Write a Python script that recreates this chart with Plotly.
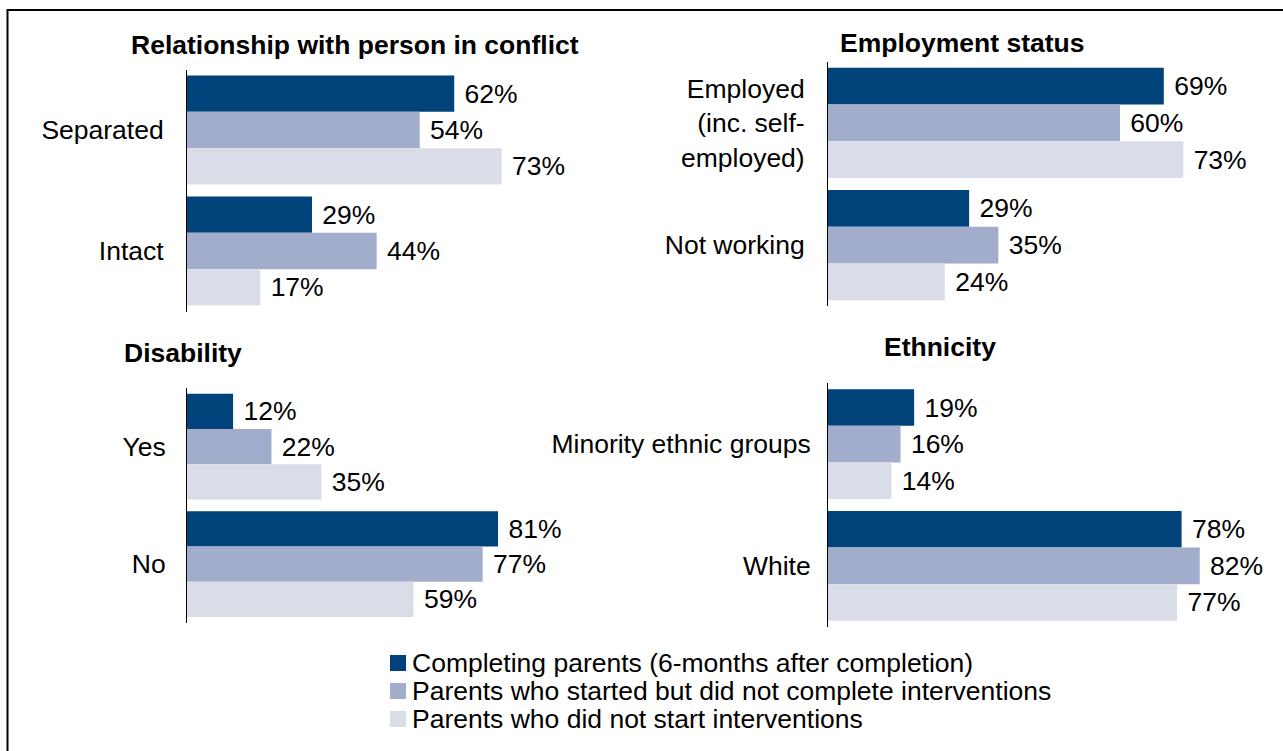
import plotly.graph_objects as go

# Series (legend order, top bar first within each group)
series_names = [
    "Completing parents (6-months after completion)",
    "Parents who started but did not complete interventions",
    "Parents who did not start interventions",
]
series_colors = ["#00427A", "#A2ACCB", "#D9DDE8"]

# Relationship with person in conflict
rel_categories = ["Separated", "Intact"]
rel_completing = [62, 29]
rel_started = [54, 44]
rel_not_started = [73, 17]

# Employment status
emp_categories = ["Employed<br>(inc. self-<br>employed)", "Not working"]
emp_completing = [69, 29]
emp_started = [60, 35]
emp_not_started = [73, 24]

# Disability
dis_categories = ["Yes", "No"]
dis_completing = [12, 81]
dis_started = [22, 77]
dis_not_started = [35, 59]

# Ethnicity
eth_categories = ["Minority ethnic groups", "White"]
eth_completing = [19, 78]
eth_started = [16, 82]
eth_not_started = [14, 77]

W, H = 1283, 751
FONT = "Liberation Sans, Arial, sans-serif"
FS = 26.5


def px_x(a, b):
    return [a / W, b / W]


def px_y(top, bottom):
    return [1 - bottom / H, 1 - top / H]


panels = [
    dict(cats=rel_categories, vals=[rel_completing, rel_started, rel_not_started],
         xdom=px_x(187, 618), xr=[0, 100], ydom=px_y(69.5, 311.5), standoff=17),
    dict(cats=emp_categories, vals=[emp_completing, emp_started, emp_not_started],
         xdom=px_x(828, 1266), xr=[0, 90], ydom=px_y(61.75, 306.25), standoff=17),
    dict(cats=dis_categories, vals=[dis_completing, dis_started, dis_not_started],
         xdom=px_x(187, 571), xr=[0, 100], ydom=px_y(387.75, 622.75), standoff=15),
    dict(cats=eth_categories, vals=[eth_completing, eth_started, eth_not_started],
         xdom=px_x(828, 1236), xr=[0, 90], ydom=px_y(383.25, 626.75), standoff=11),
]

fig = go.Figure()
layout = {}
for i, p in enumerate(panels, start=1):
    xa = "x" if i == 1 else f"x{i}"
    ya = "y" if i == 1 else f"y{i}"
    for name, color, vals in zip(series_names, series_colors, p["vals"]):
        fig.add_trace(go.Bar(
            x=vals, y=p["cats"], orientation="h", name=name,
            marker=dict(color=color, line=dict(width=0)),
            texttemplate="\u00a0%{x}%", textposition="outside",
            textfont=dict(family=FONT, size=FS, color="#000000"),
            constraintext="none", cliponaxis=False,
            showlegend=False, xaxis=xa, yaxis=ya,
            offsetgroup=name,
        ))
    key = "" if i == 1 else str(i)
    layout[f"xaxis{key}"] = dict(domain=p["xdom"], range=p["xr"], visible=False,
                                 anchor=ya, fixedrange=True)
    layout[f"yaxis{key}"] = dict(domain=p["ydom"], anchor=xa, type="category",
                                 autorange="reversed", showline=True,
                                 linecolor="#000000", linewidth=1,
                                 showgrid=False, zeroline=False, ticks="",
                                 ticklabelstandoff=p["standoff"],
                                 tickfont=dict(family=FONT, size=FS, color="#000000"))

fig.update_layout(**layout)

titles = [
    ("Relationship with person in conflict", 355, 45, "center"),
    ("Employment status", 962, 43, "center"),
    ("Disability", 122, 353, "left"),
    ("Ethnicity", 940, 347, "center"),
]
annotations = []
for text, x, y, anchor in titles:
    annotations.append(dict(text=f"<b>{text}</b>", x=x / W, y=1 - y / H,
                            xref="paper", yref="paper", xanchor=anchor,
                            yanchor="middle", showarrow=False,
                            font=dict(family=FONT, size=FS, color="#000000")))

# Legend drawn as swatches plus labels
shapes = []
legend_rows = [663, 691, 719]
for name, color, yc in zip(series_names, series_colors, legend_rows):
    shapes.append(dict(type="rect", xref="paper", yref="paper",
                       x0=390 / W, x1=406 / W, y0=1 - (yc + 8) / H, y1=1 - (yc - 8) / H,
                       fillcolor=color, line=dict(width=0)))
    annotations.append(dict(text=name, x=410 / W, y=1 - yc / H, xref="paper",
                            yref="paper", xanchor="left", yanchor="middle",
                            showarrow=False,
                            font=dict(family=FONT, size=FS, color="#000000")))

# Outer frame
shapes.append(dict(type="rect", xref="paper", yref="paper",
                   x0=7.5 / W, x1=1300 / W, y0=-20 / H, y1=1 - 10 / H,
                   line=dict(color="#000000", width=2), fillcolor="rgba(0,0,0,0)"))

fig.update_layout(
    width=W, height=H,
    margin=dict(l=0, r=0, t=0, b=0),
    paper_bgcolor="#FFFFFF", plot_bgcolor="#FFFFFF",
    barmode="group", bargap=0.1, bargroupgap=0,
    showlegend=False,
    annotations=annotations, shapes=shapes,
    font=dict(family=FONT, size=FS, color="#000000"),
)

fig.write_html("out.html", config={"displayModeBar": False})
